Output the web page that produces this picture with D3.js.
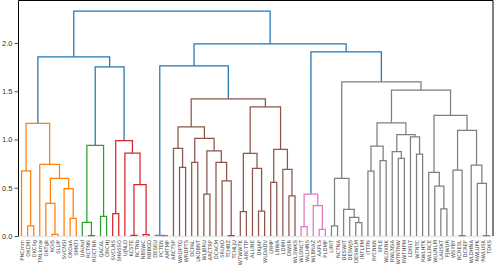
<!DOCTYPE html>
<html lang="en">
<head>
<meta charset="UTF-8">
<title>Dendrogram</title>
<script src="https://d3js.org/d3.v7.min.js"></script>
<style>
    body { margin: 0; padding: 0; background: #ffffff; }
    svg { display: block; font-family: "DejaVu Sans", sans-serif; }
    .link { fill: none; stroke-width: 1.25px; }
    .leaf-label { font-size: 5.2px; fill: #444; }
    .y-axis text { font-size: 7.5px; fill: #333; }
</style>
</head>
<body>
<div id="chart"></div>
<script>
    const width = 494;
    const height = 274;

    // leaf labels, left to right
    const labels = [
        "PNCmm", "OKCMl", "OKCSg", "TMLkmw", "OKTgk", "KOIS", "SLLIP", "SVCNSI", "OKOaA", "SMKTI",
        "UAUsd", "RCTNN", "ROCTNR", "QACAL", "ONCHJ",
        "SVCLNS", "SHASSO", "UJNLD", "KCSTE", "RCTNb", "NBSWC", "NBBGD",
        "DESEU", "PCTEN", "AMTMP",
        "ARCTSP", "WRDPTG", "WRDPTS", "DCPAL", "UKDBNT", "WLJBRU", "ARCTRP", "DCACM", "SRLND", "TCHBZ",
        "TCHLJU", "WTWWTK", "ARCTTP", "ALLINE", "DKJAP", "WLDADV", "LNHP", "LNWA", "LDIMI", "DWSR", "WLSWKS",
        "WLDNCT", "WLLHNS", "WLBNAZ", "AAPLS", "PLDMP",
        "LIRIT", "NCTNA", "DESWIT", "DESWJS", "DESWLM", "INTLPM",
        "ITTFN", "RYCNKN", "SPLE", "WLDXNK", "RWLNSA", "WTNTNW", "RWTHPM", "LDISLT", "WTNTC", "RWLHTK",
        "WLLRCE", "WLUNLM", "LAUSKT", "PJWUR", "WSYBY", "BCRESL", "DCREF", "WLDHNA", "RWLUPK", "RWLUSK", "TDKS"
    ];

    // merges written as [height, left, right]; numbers are leaf indices
    const orange = [1.166, [0.676, 0, [0.104, 1, 2]],
        [0.742, 3, [0.597, [0.338, 4, [0.017, 5, 6]], [0.49, 7, [0.183, 8, 9]]]]];
    const green = [0.939, [0.141, 10, [0.004, 11, 12]], [0.204, 13, 14]];
    const red = [0.987, [0.231, 15, 16], [0.859, 17, [0.531, [0.006, 18, 19], [0.013, 20, 21]]]];
    const purple = [0.007, 22, [0.003, 23, 24]];
    const brown = [1.421,
        [1.131, [0.908, 25, [0.711, 26, 27]],
            [1.011, [0.763, 28, 29], [0.883, [0.435, 30, 31], [0.763, 32, [0.572, 33, [0.005, 34, 35]]]]]],
        [1.338, [0.856, [0.252, 36, 37], [0.70, 38, [0.259, 39, 40]]],
            [0.897, [0.556, 41, 42], [0.69, 43, [0.417, 44, 45]]]]];
    const pink = [0.435, [0.096, 46, 47], [0.314, 48, [0.069, 49, 50]]];
    const gray = [1.597,
        [0.597, [0.104, 51, 52], [0.276, 53, [0.194, 54, [0.138, 55, 56]]]],
        [1.511,
            [1.173, [0.932, [0.673, 57, 58], [0.78, 59, 60]],
                [1.05, [0.873, 61, [0.804, 62, 63]], [1.028, 64, [0.849, 65, 66]]]],
            [1.249, [0.659, 67, [0.518, 68, [0.28, 69, 70]]],
                [1.094, [0.683, 71, [0.003, 72, 73]], [0.735, 74, [0.546, 75, [0.003, 76, 77]]]]]]];
    const tree = [2.329, [1.856, orange, [1.753, green, red]],
        [1.99, [1.763, purple, brown], [1.908, pink, gray]]];

    const yTicks = [0, 0.5, 1.0, 1.5, 2.0];

    const palette = ["#ff7f0e", "#2ca02c", "#d62728", "#9467bd", "#8c564b",
                     "#e377c2", "#7f7f7f", "#bcbd22", "#17becf"];
    const aboveColor = "#1f77b4";

    const plot = { left: 18.5, right: 492.5, top: 0.5, bottom: 236 };

    const svg = d3.select("#chart")
        .append("svg")
        .attr("width", width)
        .attr("height", height);

    const x = d3.scalePoint()
        .domain(labels)
        .range([plot.left, plot.right])
        .padding(0.5);

    const y = d3.scaleLinear()
        .domain([0, 2.44])
        .range([plot.bottom, plot.top]);

    function toNode(d) {
        if (Array.isArray(d)) {
            return { h: d[0], children: [toNode(d[1]), toNode(d[2])] };
        }
        return { h: 0, leaf: d };
    }

    const root = d3.hierarchy(toNode(tree));

    // x of a merge is the midpoint of its two children
    root.eachAfter(n => {
        if (n.children) {
            n.x = (n.children[0].x + n.children[1].x) / 2;
        } else {
            n.x = x(labels[n.data.leaf]);
        }
    });

    // scipy style colouring, threshold 0.7 * max height
    const threshold = 0.7 * root.data.h;
    let k = 0;
    root.eachBefore(n => {
        if (!n.children) return;
        if (n.data.h >= threshold) {
            n.color = aboveColor;
        } else if (!n.parent || n.parent.data.h >= threshold) {
            n.color = palette[k++ % palette.length];
        } else {
            n.color = n.parent.color;
        }
    });

    // bottom line
    svg.append("line")
        .attr("x1", plot.left).attr("x2", plot.right + 0.5)
        .attr("y1", plot.bottom + 0.5).attr("y2", plot.bottom + 0.5)
        .attr("stroke", "#e6e6e6")
        .attr("stroke-width", 1.5);

    svg.selectAll("path.link")
        .data(root.descendants().filter(n => n.children))
        .enter()
        .append("path")
        .attr("class", "link")
        .attr("stroke", n => n.color)
        .attr("d", n => {
            const a = n.children[0], b = n.children[1];
            return `M${a.x},${y(a.data.h)}V${y(n.data.h)}H${b.x}V${y(b.data.h)}`;
        });

    // y axis
    const yAxis = d3.axisLeft(y)
        .tickValues(yTicks)
        .tickFormat(d3.format(".1f"))
        .tickSize(4)
        .tickSizeOuter(0)
        .tickPadding(2);

    const gy = svg.append("g")
        .attr("class", "y-axis")
        .attr("transform", `translate(${plot.left},0)`)
        .call(yAxis);
    gy.select(".domain").remove();
    gy.selectAll(".tick line").attr("stroke", "#222").attr("stroke-width", 0.8);

    // frame: left, top, right
    svg.append("path")
        .attr("d", `M${plot.left},${plot.bottom}V${plot.top}H${plot.right + 0.5}V${plot.bottom}`)
        .attr("fill", "none")
        .attr("stroke", "#000")
        .attr("stroke-width", 1);

    // leaf labels, rotated
    svg.selectAll("text.leaf-label")
        .data(root.leaves())
        .enter()
        .append("text")
        .attr("class", "leaf-label")
        .attr("text-anchor", "end")
        .attr("transform", d => `translate(${d.x + 2},${plot.bottom + 4}) rotate(-90)`)
        .text(d => labels[d.data.leaf]);
</script>
</body>
</html>
